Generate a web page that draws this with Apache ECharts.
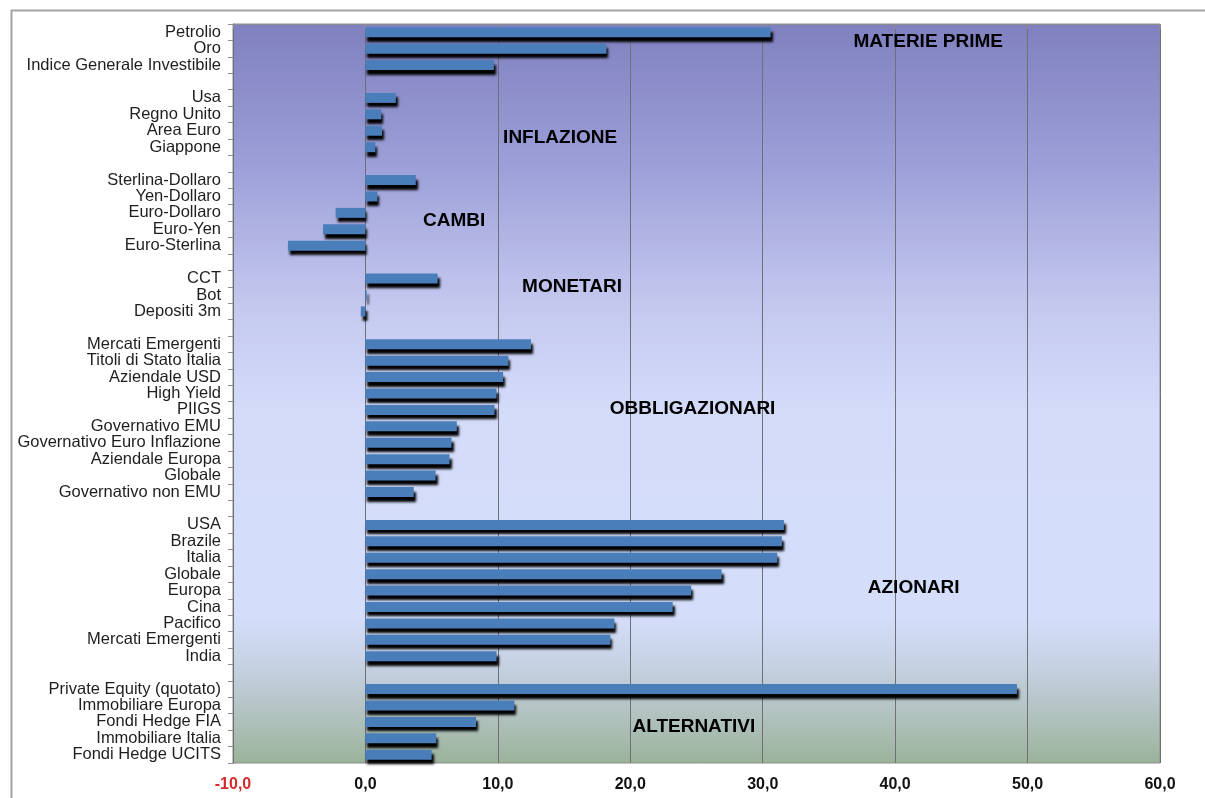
<!DOCTYPE html>
<html>
<head>
<meta charset="utf-8">
<title>Rendimenti per asset class</title>
<script src="https://cdn.jsdelivr.net/npm/echarts@6/dist/echarts.min.js"></script>
<style>
  html, body { margin: 0; padding: 0; background: #ffffff; }
  #chart { width: 1205px; height: 798px; }
</style>
</head>
<body>
<div id="chart"></div>
<script>
// ---- data: one pair of arrays per asset class, top to bottom ----
const materiePrimeNames = ['Petrolio', 'Oro', 'Indice Generale Investibile'];
const materiePrimeValues = [30.6, 18.2, 9.7];

const inflazioneNames = ['Usa', 'Regno Unito', 'Area Euro', 'Giappone'];
const inflazioneValues = [2.3, 1.2, 1.25, 0.75];

const cambiNames = ['Sterlina-Dollaro', 'Yen-Dollaro', 'Euro-Dollaro', 'Euro-Yen', 'Euro-Sterlina'];
const cambiValues = [3.8, 0.9, -2.25, -3.2, -5.85];

const monetariNames = ['CCT', 'Bot', 'Depositi 3m'];
const monetariValues = [5.45, 0.1, -0.35];

const obbligazionariNames = ['Mercati Emergenti', 'Titoli di Stato Italia', 'Aziendale USD', 'High Yield', 'PIIGS',
  'Governativo EMU', 'Governativo Euro Inflazione', 'Aziendale Europa', 'Globale', 'Governativo non EMU'];
const obbligazionariValues = [12.5, 10.8, 10.4, 9.9, 9.75, 6.9, 6.5, 6.35, 5.3, 3.65];

const azionariNames = ['USA', 'Brazile', 'Italia', 'Globale', 'Europa', 'Cina', 'Pacifico', 'Mercati Emergenti', 'India'];
const azionariValues = [31.6, 31.45, 31.1, 26.9, 24.6, 23.2, 18.8, 18.5, 9.9];

const alternativiNames = ['Private Equity (quotato)', 'Immobiliare Europa', 'Fondi Hedge FIA', 'Immobiliare Italia', 'Fondi Hedge UCITS'];
const alternativiValues = [49.2, 11.25, 8.35, 5.35, 5.0];

// group titles: [text, x value, row position (rows counted from the top)]
const groupTitles = [
  ['MATERIE PRIME', 42.5, 1.1],
  ['INFLAZIONE', 14.7, 6.9],
  ['CAMBI', 6.7, 12.0],
  ['MONETARI', 15.6, 16.0],
  ['OBBLIGAZIONARI', 24.7, 23.4],
  ['AZIONARI', 41.4, 34.3],
  ['ALTERNATIVI', 24.8, 42.8]
];

const xTicks = { min: -10, max: 60, step: 10 };

// ---- build one category list with an empty row between groups ----
const groups = [
  [materiePrimeNames, materiePrimeValues],
  [inflazioneNames, inflazioneValues],
  [cambiNames, cambiValues],
  [monetariNames, monetariValues],
  [obbligazionariNames, obbligazionariValues],
  [azionariNames, azionariValues],
  [alternativiNames, alternativiValues]
];
const categories = [];
const values = [];
groups.forEach(([names, vals], gi) => {
  if (gi > 0) { categories.push(''); values.push('-'); }
  names.forEach((n, i) => { categories.push(n); values.push(vals[i]); });
});
const rowCount = categories.length;

const font = 'Liberation Sans, Arial, Helvetica, sans-serif';
const chart = echarts.init(document.getElementById('chart'), null, { renderer: 'canvas' });

chart.setOption({
  animation: false,
  backgroundColor: '#ffffff',
  graphic: [{
    type: 'rect',
    left: 9, top: 8,
    shape: { width: 1300, height: 900 },
    style: { fill: 'none', stroke: '#a3a3a3', lineWidth: 2 },
    silent: true, z: -1
  }],
  grid: {
    left: 233, right: 45, top: 24, bottom: 35,
    show: true,
    borderColor: '#8c8c8c',
    borderWidth: 1,
    backgroundColor: {
      type: 'linear', x: 0, y: 0, x2: 0, y2: 1,
      colorStops: [
        { offset: 0.00, color: '#8080c0' },
        { offset: 0.18, color: '#9a9dd6' },
        { offset: 0.38, color: '#c4c8ef' },
        { offset: 0.52, color: '#d3dbf9' },
        { offset: 0.80, color: '#d4defb' },
        { offset: 0.86, color: '#c8d3e6' },
        { offset: 0.93, color: '#b3c3c2' },
        { offset: 1.00, color: '#9ab39a' }
      ]
    }
  },
  xAxis: {
    type: 'value',
    min: xTicks.min, max: xTicks.max, interval: xTicks.step,
    axisLine: { show: true, lineStyle: { color: '#8c8c8c', width: 1 } },
    axisTick: { show: true, length: 5, lineStyle: { color: '#8c8c8c' } },
    splitLine: { show: true, lineStyle: { color: '#6f6f78', width: 1 } },
    axisLabel: {
      margin: 14,
      fontFamily: font,
      fontWeight: 'bold',
      fontSize: 16,
      color: (v) => (Number(v) < 0 ? '#d42a2a' : '#111111'),
      formatter: (v) => v.toFixed(1).replace('.', ',')
    }
  },
  yAxis: [{
    type: 'category',
    data: categories,
    inverse: true,
    axisLine: { show: true, onZero: false, lineStyle: { color: '#6f6f6f', width: 1 } },
    axisTick: { show: true, inside: false, length: 5, interval: 0, lineStyle: { color: '#8c8c8c' } },
    splitLine: { show: false },
    axisLabel: {
      interval: 0,
      margin: 12,
      fontFamily: font,
      fontSize: 16.5,
      color: '#1e1e1e'
    }
  }, {
    // row scale used to place the group titles
    type: 'value',
    min: 0, max: rowCount,
    inverse: true,
    show: false
  }],
  series: [{
    type: 'bar',
    data: values,
    barWidth: 10,
    itemStyle: {
      color: '#4a7ebb',
      shadowColor: '#000000',
      shadowBlur: 2.5,
      shadowOffsetX: 2,
      shadowOffsetY: 4.5
    },
    z: 3
  }, {
    type: 'scatter',
    yAxisIndex: 1,
    symbolSize: 0,
    silent: true,
    itemStyle: { opacity: 1 },
    data: groupTitles.map(([t, x, r]) => ({ name: t, value: [x, r] })),
    label: {
      show: true,
      position: 'inside',
      formatter: (p) => p.name,
      fontFamily: font,
      fontWeight: 'bold',
      fontSize: 19,
      color: '#000000',
      opacity: 1,
      textBorderWidth: 0,
      textShadowBlur: 0
    },
    z: 4
  }]
});
</script>
</body>
</html>
